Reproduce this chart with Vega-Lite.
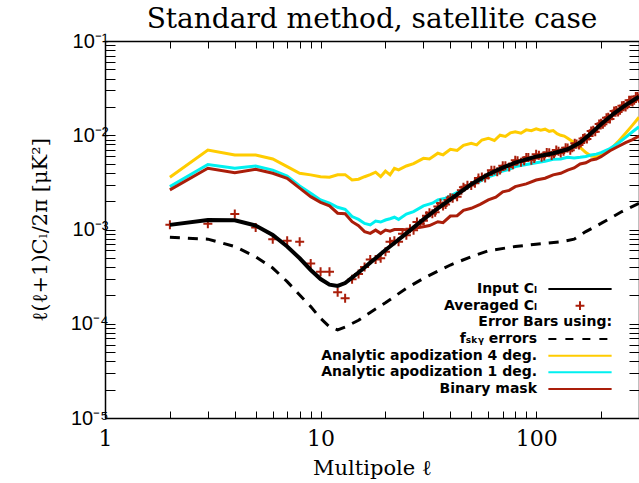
{
  "$schema": "https://vega.github.io/schema/vega-lite/v6.json",
  "width": 534,
  "height": 377,
  "autosize": {"type": "none"},
  "padding": {"left": 105, "top": 41, "right": 0, "bottom": 65},
  "background": "white",
  "title": {"text": "Standard method, satellite case", "font": "DejaVu Serif", "fontSize": 28, "fontWeight": "normal", "color": "black", "anchor": "middle", "offset": 8, "dy": 11},
  "config": {"view": {"stroke": null}},
  "data": {"values": [
    {"s": "Input Cₗ", "l": 2, "v": 0.00112}, {"s": "Input Cₗ", "l": 3, "v": 0.00126}, {"s": "Input Cₗ", "l": 4, "v": 0.00125}, {"s": "Input Cₗ", "l": 5, "v": 0.0011}, {"s": "Input Cₗ", "l": 6, "v": 0.000875}, {"s": "Input Cₗ", "l": 7, "v": 0.00066}, {"s": "Input Cₗ", "l": 8, "v": 0.000495}, {"s": "Input Cₗ", "l": 9, "v": 0.000372}, {"s": "Input Cₗ", "l": 10, "v": 0.000298}, {"s": "Input Cₗ", "l": 11, "v": 0.00026}, {"s": "Input Cₗ", "l": 12, "v": 0.000252}, {"s": "Input Cₗ", "l": 13, "v": 0.00027}, {"s": "Input Cₗ", "l": 14, "v": 0.000308}, {"s": "Input Cₗ", "l": 15, "v": 0.00035}, {"s": "Input Cₗ", "l": 16, "v": 0.000395}, {"s": "Input Cₗ", "l": 17, "v": 0.000445}, {"s": "Input Cₗ", "l": 18, "v": 0.000495}, {"s": "Input Cₗ", "l": 20, "v": 0.000605}, {"s": "Input Cₗ", "l": 22, "v": 0.00072}, {"s": "Input Cₗ", "l": 25, "v": 0.00091}, {"s": "Input Cₗ", "l": 30, "v": 0.00128}, {"s": "Input Cₗ", "l": 35, "v": 0.00168}, {"s": "Input Cₗ", "l": 40, "v": 0.00209}, {"s": "Input Cₗ", "l": 50, "v": 0.00302}, {"s": "Input Cₗ", "l": 60, "v": 0.00386}, {"s": "Input Cₗ", "l": 70, "v": 0.00453}, {"s": "Input Cₗ", "l": 80, "v": 0.00512}, {"s": "Input Cₗ", "l": 90, "v": 0.00555}, {"s": "Input Cₗ", "l": 100, "v": 0.00593}, {"s": "Input Cₗ", "l": 120, "v": 0.00645}, {"s": "Input Cₗ", "l": 140, "v": 0.0071}, {"s": "Input Cₗ", "l": 160, "v": 0.00835}, {"s": "Input Cₗ", "l": 180, "v": 0.0105}, {"s": "Input Cₗ", "l": 200, "v": 0.0131}, {"s": "Input Cₗ", "l": 230, "v": 0.0171}, {"s": "Input Cₗ", "l": 260, "v": 0.0209}, {"s": "Input Cₗ", "l": 300, "v": 0.0257},

    {"s": "Averaged Cₗ", "l": 2, "v": 0.00112}, {"s": "Averaged Cₗ", "l": 3, "v": 0.00115}, {"s": "Averaged Cₗ", "l": 4, "v": 0.00146}, {"s": "Averaged Cₗ", "l": 5, "v": 0.00105}, {"s": "Averaged Cₗ", "l": 6, "v": 0.00079}, {"s": "Averaged Cₗ", "l": 7, "v": 0.00076}, {"s": "Averaged Cₗ", "l": 8, "v": 0.00074}, {"s": "Averaged Cₗ", "l": 9, "v": 0.000437}, {"s": "Averaged Cₗ", "l": 10, "v": 0.000357}, {"s": "Averaged Cₗ", "l": 11, "v": 0.000357}, {"s": "Averaged Cₗ", "l": 12, "v": 0.000216}, {"s": "Averaged Cₗ", "l": 13, "v": 0.000187}, {"s": "Averaged Cₗ", "l": 14, "v": 0.000296}, {"s": "Averaged Cₗ", "l": 15, "v": 0.000337}, {"s": "Averaged Cₗ", "l": 16, "v": 0.0004}, {"s": "Averaged Cₗ", "l": 17, "v": 0.00048}, {"s": "Averaged Cₗ", "l": 18, "v": 0.00048}, {"s": "Averaged Cₗ", "l": 19, "v": 0.000495}, {"s": "Averaged Cₗ", "l": 20, "v": 0.00058}, {"s": "Averaged Cₗ", "l": 21, "v": 0.00074}, {"s": "Averaged Cₗ", "l": 22, "v": 0.00076}, {"s": "Averaged Cₗ", "l": 23, "v": 0.00074}, {"s": "Averaged Cₗ", "l": 24, "v": 0.0009}, {"s": "Averaged Cₗ", "l": 25, "v": 0.00087}, {"s": "Averaged Cₗ", "l": 26, "v": 0.00102}, {"s": "Averaged Cₗ", "l": 27, "v": 0.00098}, {"s": "Averaged Cₗ", "l": 28, "v": 0.0012}, {"s": "Averaged Cₗ", "l": 29, "v": 0.00115}, {"s": "Averaged Cₗ", "l": 30, "v": 0.00124}, {"s": "Averaged Cₗ", "l": 31, "v": 0.0014}, {"s": "Averaged Cₗ", "l": 32, "v": 0.00151}, {"s": "Averaged Cₗ", "l": 33, "v": 0.00147}, {"s": "Averaged Cₗ", "l": 34, "v": 0.00152}, {"s": "Averaged Cₗ", "l": 35, "v": 0.00175}, {"s": "Averaged Cₗ", "l": 36, "v": 0.0019}, {"s": "Averaged Cₗ", "l": 37, "v": 0.00178}, {"s": "Averaged Cₗ", "l": 38, "v": 0.00184}, {"s": "Averaged Cₗ", "l": 39, "v": 0.00206}, {"s": "Averaged Cₗ", "l": 40, "v": 0.00217}, {"s": "Averaged Cₗ", "l": 41, "v": 0.00214}, {"s": "Averaged Cₗ", "l": 43, "v": 0.00222}, {"s": "Averaged Cₗ", "l": 45, "v": 0.00261}, {"s": "Averaged Cₗ", "l": 46, "v": 0.00281}, {"s": "Averaged Cₗ", "l": 48, "v": 0.00295}, {"s": "Averaged Cₗ", "l": 50, "v": 0.00293}, {"s": "Averaged Cₗ", "l": 52, "v": 0.00309}, {"s": "Averaged Cₗ", "l": 54, "v": 0.00352}, {"s": "Averaged Cₗ", "l": 56, "v": 0.0036}, {"s": "Averaged Cₗ", "l": 58, "v": 0.00352}, {"s": "Averaged Cₗ", "l": 60, "v": 0.00378}, {"s": "Averaged Cₗ", "l": 62, "v": 0.00424}, {"s": "Averaged Cₗ", "l": 64, "v": 0.00426}, {"s": "Averaged Cₗ", "l": 66, "v": 0.0041}, {"s": "Averaged Cₗ", "l": 68, "v": 0.00427}, {"s": "Averaged Cₗ", "l": 70, "v": 0.00476}, {"s": "Averaged Cₗ", "l": 72, "v": 0.00474}, {"s": "Averaged Cₗ", "l": 75, "v": 0.00459}, {"s": "Averaged Cₗ", "l": 78, "v": 0.00485}, {"s": "Averaged Cₗ", "l": 80, "v": 0.00543}, {"s": "Averaged Cₗ", "l": 82, "v": 0.00536}, {"s": "Averaged Cₗ", "l": 85, "v": 0.00516}, {"s": "Averaged Cₗ", "l": 88, "v": 0.00535}, {"s": "Averaged Cₗ", "l": 90, "v": 0.0058}, {"s": "Averaged Cₗ", "l": 92, "v": 0.0058}, {"s": "Averaged Cₗ", "l": 95, "v": 0.00544}, {"s": "Averaged Cₗ", "l": 98, "v": 0.00568}, {"s": "Averaged Cₗ", "l": 100, "v": 0.00629}, {"s": "Averaged Cₗ", "l": 103, "v": 0.00612}, {"s": "Averaged Cₗ", "l": 106, "v": 0.00584}, {"s": "Averaged Cₗ", "l": 109, "v": 0.00604}, {"s": "Averaged Cₗ", "l": 112, "v": 0.00655}, {"s": "Averaged Cₗ", "l": 115, "v": 0.00651}, {"s": "Averaged Cₗ", "l": 118, "v": 0.00608}, {"s": "Averaged Cₗ", "l": 121, "v": 0.00635}, {"s": "Averaged Cₗ", "l": 124, "v": 0.00696}, {"s": "Averaged Cₗ", "l": 127, "v": 0.00678}, {"s": "Averaged Cₗ", "l": 130, "v": 0.00648}, {"s": "Averaged Cₗ", "l": 134, "v": 0.00676}, {"s": "Averaged Cₗ", "l": 137, "v": 0.00735}, {"s": "Averaged Cₗ", "l": 140, "v": 0.00731}, {"s": "Averaged Cₗ", "l": 144, "v": 0.00694}, {"s": "Averaged Cₗ", "l": 147, "v": 0.00735}, {"s": "Averaged Cₗ", "l": 151, "v": 0.0082}, {"s": "Averaged Cₗ", "l": 154, "v": 0.0081}, {"s": "Averaged Cₗ", "l": 158, "v": 0.00787}, {"s": "Averaged Cₗ", "l": 161, "v": 0.00828}, {"s": "Averaged Cₗ", "l": 165, "v": 0.00924}, {"s": "Averaged Cₗ", "l": 168, "v": 0.00938}, {"s": "Averaged Cₗ", "l": 172, "v": 0.00912}, {"s": "Averaged Cₗ", "l": 176, "v": 0.0098}, {"s": "Averaged Cₗ", "l": 180, "v": 0.0111}, {"s": "Averaged Cₗ", "l": 184, "v": 0.0113}, {"s": "Averaged Cₗ", "l": 188, "v": 0.0109}, {"s": "Averaged Cₗ", "l": 192, "v": 0.0118}, {"s": "Averaged Cₗ", "l": 196, "v": 0.0132}, {"s": "Averaged Cₗ", "l": 200, "v": 0.0134}, {"s": "Averaged Cₗ", "l": 204, "v": 0.0131}, {"s": "Averaged Cₗ", "l": 208, "v": 0.0137}, {"s": "Averaged Cₗ", "l": 212, "v": 0.0153}, {"s": "Averaged Cₗ", "l": 216, "v": 0.0155}, {"s": "Averaged Cₗ", "l": 220, "v": 0.0149}, {"s": "Averaged Cₗ", "l": 225, "v": 0.0161}, {"s": "Averaged Cₗ", "l": 230, "v": 0.0181}, {"s": "Averaged Cₗ", "l": 235, "v": 0.0183}, {"s": "Averaged Cₗ", "l": 240, "v": 0.0177}, {"s": "Averaged Cₗ", "l": 245, "v": 0.0184}, {"s": "Averaged Cₗ", "l": 250, "v": 0.0205}, {"s": "Averaged Cₗ", "l": 255, "v": 0.0207}, {"s": "Averaged Cₗ", "l": 260, "v": 0.0199}, {"s": "Averaged Cₗ", "l": 265, "v": 0.0211}, {"s": "Averaged Cₗ", "l": 270, "v": 0.0235}, {"s": "Averaged Cₗ", "l": 275, "v": 0.0235}, {"s": "Averaged Cₗ", "l": 280, "v": 0.0226}, {"s": "Averaged Cₗ", "l": 285, "v": 0.0235}, {"s": "Averaged Cₗ", "l": 290, "v": 0.0258}, {"s": "Averaged Cₗ", "l": 295, "v": 0.0257}, {"s": "Averaged Cₗ", "l": 300, "v": 0.0247},

    {"s": "fₛₖᵧ errors", "l": 2, "v": 0.000826}, {"s": "fₛₖᵧ errors", "l": 3, "v": 0.00079}, {"s": "fₛₖᵧ errors", "l": 4, "v": 0.00066}, {"s": "fₛₖᵧ errors", "l": 5, "v": 0.000515}, {"s": "fₛₖᵧ errors", "l": 6, "v": 0.00039}, {"s": "fₛₖᵧ errors", "l": 7, "v": 0.00028}, {"s": "fₛₖᵧ errors", "l": 8, "v": 0.000202}, {"s": "fₛₖᵧ errors", "l": 9, "v": 0.000152}, {"s": "fₛₖᵧ errors", "l": 10, "v": 0.000114}, {"s": "fₛₖᵧ errors", "l": 11, "v": 0.000093}, {"s": "fₛₖᵧ errors", "l": 12, "v": 0.000086}, {"s": "fₛₖᵧ errors", "l": 13, "v": 0.000092}, {"s": "fₛₖᵧ errors", "l": 15, "v": 0.000109}, {"s": "fₛₖᵧ errors", "l": 17, "v": 0.000132}, {"s": "fₛₖᵧ errors", "l": 20, "v": 0.000167}, {"s": "fₛₖᵧ errors", "l": 25, "v": 0.000238}, {"s": "fₛₖᵧ errors", "l": 30, "v": 0.000303}, {"s": "fₛₖᵧ errors", "l": 40, "v": 0.00042}, {"s": "fₛₖᵧ errors", "l": 50, "v": 0.000515}, {"s": "fₛₖᵧ errors", "l": 60, "v": 0.000595}, {"s": "fₛₖᵧ errors", "l": 80, "v": 0.00066}, {"s": "fₛₖᵧ errors", "l": 100, "v": 0.000697}, {"s": "fₛₖᵧ errors", "l": 130, "v": 0.00074}, {"s": "fₛₖᵧ errors", "l": 150, "v": 0.00079}, {"s": "fₛₖᵧ errors", "l": 170, "v": 0.00095}, {"s": "fₛₖᵧ errors", "l": 200, "v": 0.00116}, {"s": "fₛₖᵧ errors", "l": 250, "v": 0.00155}, {"s": "fₛₖᵧ errors", "l": 300, "v": 0.0019},

    {"s": "Analytic apodization 4 deg.", "l": 2, "v": 0.00358}, {"s": "Analytic apodization 4 deg.", "l": 3, "v": 0.00697}, {"s": "Analytic apodization 4 deg.", "l": 4, "v": 0.00616}, {"s": "Analytic apodization 4 deg.", "l": 5, "v": 0.00616}, {"s": "Analytic apodization 4 deg.", "l": 6, "v": 0.0056}, {"s": "Analytic apodization 4 deg.", "l": 7, "v": 0.00465}, {"s": "Analytic apodization 4 deg.", "l": 8, "v": 0.00395}, {"s": "Analytic apodization 4 deg.", "l": 9, "v": 0.0038}, {"s": "Analytic apodization 4 deg.", "l": 10, "v": 0.00363}, {"s": "Analytic apodization 4 deg.", "l": 11, "v": 0.00358}, {"s": "Analytic apodization 4 deg.", "l": 12, "v": 0.0038}, {"s": "Analytic apodization 4 deg.", "l": 13, "v": 0.00382}, {"s": "Analytic apodization 4 deg.", "l": 14, "v": 0.00335}, {"s": "Analytic apodization 4 deg.", "l": 15, "v": 0.00342}, {"s": "Analytic apodization 4 deg.", "l": 16, "v": 0.00363}, {"s": "Analytic apodization 4 deg.", "l": 17, "v": 0.00382}, {"s": "Analytic apodization 4 deg.", "l": 18, "v": 0.00405}, {"s": "Analytic apodization 4 deg.", "l": 19, "v": 0.00363}, {"s": "Analytic apodization 4 deg.", "l": 20, "v": 0.00416}, {"s": "Analytic apodization 4 deg.", "l": 21, "v": 0.0038}, {"s": "Analytic apodization 4 deg.", "l": 22, "v": 0.00446}, {"s": "Analytic apodization 4 deg.", "l": 23, "v": 0.0043}, {"s": "Analytic apodization 4 deg.", "l": 25, "v": 0.00472}, {"s": "Analytic apodization 4 deg.", "l": 27, "v": 0.005}, {"s": "Analytic apodization 4 deg.", "l": 30, "v": 0.00569}, {"s": "Analytic apodization 4 deg.", "l": 32, "v": 0.0056}, {"s": "Analytic apodization 4 deg.", "l": 35, "v": 0.00645}, {"s": "Analytic apodization 4 deg.", "l": 37, "v": 0.0062}, {"s": "Analytic apodization 4 deg.", "l": 40, "v": 0.0071}, {"s": "Analytic apodization 4 deg.", "l": 43, "v": 0.0069}, {"s": "Analytic apodization 4 deg.", "l": 46, "v": 0.0078}, {"s": "Analytic apodization 4 deg.", "l": 50, "v": 0.00822}, {"s": "Analytic apodization 4 deg.", "l": 53, "v": 0.0079}, {"s": "Analytic apodization 4 deg.", "l": 56, "v": 0.0089}, {"s": "Analytic apodization 4 deg.", "l": 60, "v": 0.0093}, {"s": "Analytic apodization 4 deg.", "l": 64, "v": 0.0088}, {"s": "Analytic apodization 4 deg.", "l": 68, "v": 0.01}, {"s": "Analytic apodization 4 deg.", "l": 72, "v": 0.0097}, {"s": "Analytic apodization 4 deg.", "l": 76, "v": 0.0106}, {"s": "Analytic apodization 4 deg.", "l": 80, "v": 0.0109}, {"s": "Analytic apodization 4 deg.", "l": 85, "v": 0.0105}, {"s": "Analytic apodization 4 deg.", "l": 90, "v": 0.0114}, {"s": "Analytic apodization 4 deg.", "l": 95, "v": 0.0112}, {"s": "Analytic apodization 4 deg.", "l": 100, "v": 0.0117}, {"s": "Analytic apodization 4 deg.", "l": 105, "v": 0.0113}, {"s": "Analytic apodization 4 deg.", "l": 110, "v": 0.0116}, {"s": "Analytic apodization 4 deg.", "l": 115, "v": 0.011}, {"s": "Analytic apodization 4 deg.", "l": 120, "v": 0.0112}, {"s": "Analytic apodization 4 deg.", "l": 125, "v": 0.0104}, {"s": "Analytic apodization 4 deg.", "l": 130, "v": 0.01}, {"s": "Analytic apodization 4 deg.", "l": 135, "v": 0.0098}, {"s": "Analytic apodization 4 deg.", "l": 140, "v": 0.0093}, {"s": "Analytic apodization 4 deg.", "l": 150, "v": 0.00836}, {"s": "Analytic apodization 4 deg.", "l": 160, "v": 0.00745}, {"s": "Analytic apodization 4 deg.", "l": 170, "v": 0.00654}, {"s": "Analytic apodization 4 deg.", "l": 180, "v": 0.00603}, {"s": "Analytic apodization 4 deg.", "l": 190, "v": 0.00593}, {"s": "Analytic apodization 4 deg.", "l": 200, "v": 0.00616}, {"s": "Analytic apodization 4 deg.", "l": 220, "v": 0.00697}, {"s": "Analytic apodization 4 deg.", "l": 240, "v": 0.00855}, {"s": "Analytic apodization 4 deg.", "l": 260, "v": 0.0105}, {"s": "Analytic apodization 4 deg.", "l": 280, "v": 0.0128}, {"s": "Analytic apodization 4 deg.", "l": 300, "v": 0.0155},

    {"s": "Analytic apodization 1 deg.", "l": 2, "v": 0.00285}, {"s": "Analytic apodization 1 deg.", "l": 3, "v": 0.0049}, {"s": "Analytic apodization 1 deg.", "l": 4, "v": 0.00446}, {"s": "Analytic apodization 1 deg.", "l": 5, "v": 0.00472}, {"s": "Analytic apodization 1 deg.", "l": 6, "v": 0.00427}, {"s": "Analytic apodization 1 deg.", "l": 7, "v": 0.0037}, {"s": "Analytic apodization 1 deg.", "l": 8, "v": 0.0029}, {"s": "Analytic apodization 1 deg.", "l": 9, "v": 0.00242}, {"s": "Analytic apodization 1 deg.", "l": 10, "v": 0.00206}, {"s": "Analytic apodization 1 deg.", "l": 11, "v": 0.0019}, {"s": "Analytic apodization 1 deg.", "l": 12, "v": 0.00172}, {"s": "Analytic apodization 1 deg.", "l": 13, "v": 0.00164}, {"s": "Analytic apodization 1 deg.", "l": 14, "v": 0.00137}, {"s": "Analytic apodization 1 deg.", "l": 15, "v": 0.00128}, {"s": "Analytic apodization 1 deg.", "l": 16, "v": 0.00116}, {"s": "Analytic apodization 1 deg.", "l": 17, "v": 0.00112}, {"s": "Analytic apodization 1 deg.", "l": 18, "v": 0.00123}, {"s": "Analytic apodization 1 deg.", "l": 19, "v": 0.0012}, {"s": "Analytic apodization 1 deg.", "l": 20, "v": 0.00126}, {"s": "Analytic apodization 1 deg.", "l": 21, "v": 0.0013}, {"s": "Analytic apodization 1 deg.", "l": 22, "v": 0.00135}, {"s": "Analytic apodization 1 deg.", "l": 23, "v": 0.00128}, {"s": "Analytic apodization 1 deg.", "l": 25, "v": 0.00146}, {"s": "Analytic apodization 1 deg.", "l": 27, "v": 0.00155}, {"s": "Analytic apodization 1 deg.", "l": 30, "v": 0.00178}, {"s": "Analytic apodization 1 deg.", "l": 33, "v": 0.0019}, {"s": "Analytic apodization 1 deg.", "l": 35, "v": 0.00206}, {"s": "Analytic apodization 1 deg.", "l": 38, "v": 0.00215}, {"s": "Analytic apodization 1 deg.", "l": 40, "v": 0.00227}, {"s": "Analytic apodization 1 deg.", "l": 45, "v": 0.0026}, {"s": "Analytic apodization 1 deg.", "l": 50, "v": 0.00296}, {"s": "Analytic apodization 1 deg.", "l": 55, "v": 0.00325}, {"s": "Analytic apodization 1 deg.", "l": 60, "v": 0.00363}, {"s": "Analytic apodization 1 deg.", "l": 65, "v": 0.00385}, {"s": "Analytic apodization 1 deg.", "l": 70, "v": 0.00418}, {"s": "Analytic apodization 1 deg.", "l": 75, "v": 0.00435}, {"s": "Analytic apodization 1 deg.", "l": 80, "v": 0.00465}, {"s": "Analytic apodization 1 deg.", "l": 90, "v": 0.0049}, {"s": "Analytic apodization 1 deg.", "l": 100, "v": 0.00512}, {"s": "Analytic apodization 1 deg.", "l": 110, "v": 0.0053}, {"s": "Analytic apodization 1 deg.", "l": 120, "v": 0.00556}, {"s": "Analytic apodization 1 deg.", "l": 130, "v": 0.0056}, {"s": "Analytic apodization 1 deg.", "l": 140, "v": 0.00583}, {"s": "Analytic apodization 1 deg.", "l": 150, "v": 0.00575}, {"s": "Analytic apodization 1 deg.", "l": 160, "v": 0.00583}, {"s": "Analytic apodization 1 deg.", "l": 170, "v": 0.00595}, {"s": "Analytic apodization 1 deg.", "l": 180, "v": 0.00616}, {"s": "Analytic apodization 1 deg.", "l": 190, "v": 0.0063}, {"s": "Analytic apodization 1 deg.", "l": 200, "v": 0.00654}, {"s": "Analytic apodization 1 deg.", "l": 220, "v": 0.00723}, {"s": "Analytic apodization 1 deg.", "l": 240, "v": 0.00822}, {"s": "Analytic apodization 1 deg.", "l": 260, "v": 0.0095}, {"s": "Analytic apodization 1 deg.", "l": 280, "v": 0.0109}, {"s": "Analytic apodization 1 deg.", "l": 300, "v": 0.0123},

    {"s": "Binary mask", "l": 2, "v": 0.00263}, {"s": "Binary mask", "l": 3, "v": 0.00446}, {"s": "Binary mask", "l": 4, "v": 0.00401}, {"s": "Binary mask", "l": 5, "v": 0.00436}, {"s": "Binary mask", "l": 6, "v": 0.00395}, {"s": "Binary mask", "l": 7, "v": 0.00349}, {"s": "Binary mask", "l": 8, "v": 0.00275}, {"s": "Binary mask", "l": 9, "v": 0.00223}, {"s": "Binary mask", "l": 10, "v": 0.00194}, {"s": "Binary mask", "l": 11, "v": 0.00178}, {"s": "Binary mask", "l": 12, "v": 0.00149}, {"s": "Binary mask", "l": 13, "v": 0.00147}, {"s": "Binary mask", "l": 14, "v": 0.00121}, {"s": "Binary mask", "l": 15, "v": 0.0011}, {"s": "Binary mask", "l": 16, "v": 0.00095}, {"s": "Binary mask", "l": 17, "v": 0.00091}, {"s": "Binary mask", "l": 18, "v": 0.000985}, {"s": "Binary mask", "l": 19, "v": 0.00091}, {"s": "Binary mask", "l": 20, "v": 0.000985}, {"s": "Binary mask", "l": 21, "v": 0.00096}, {"s": "Binary mask", "l": 22, "v": 0.001}, {"s": "Binary mask", "l": 24, "v": 0.001}, {"s": "Binary mask", "l": 26, "v": 0.00098}, {"s": "Binary mask", "l": 28, "v": 0.00104}, {"s": "Binary mask", "l": 30, "v": 0.00107}, {"s": "Binary mask", "l": 32, "v": 0.0011}, {"s": "Binary mask", "l": 35, "v": 0.00121}, {"s": "Binary mask", "l": 37, "v": 0.00118}, {"s": "Binary mask", "l": 40, "v": 0.00139}, {"s": "Binary mask", "l": 43, "v": 0.0014}, {"s": "Binary mask", "l": 46, "v": 0.0016}, {"s": "Binary mask", "l": 50, "v": 0.00168}, {"s": "Binary mask", "l": 55, "v": 0.00185}, {"s": "Binary mask", "l": 60, "v": 0.00206}, {"s": "Binary mask", "l": 65, "v": 0.0022}, {"s": "Binary mask", "l": 70, "v": 0.00251}, {"s": "Binary mask", "l": 75, "v": 0.0026}, {"s": "Binary mask", "l": 80, "v": 0.00285}, {"s": "Binary mask", "l": 90, "v": 0.00305}, {"s": "Binary mask", "l": 100, "v": 0.00335}, {"s": "Binary mask", "l": 110, "v": 0.0035}, {"s": "Binary mask", "l": 120, "v": 0.0038}, {"s": "Binary mask", "l": 130, "v": 0.00395}, {"s": "Binary mask", "l": 140, "v": 0.00427}, {"s": "Binary mask", "l": 150, "v": 0.0045}, {"s": "Binary mask", "l": 160, "v": 0.00495}, {"s": "Binary mask", "l": 170, "v": 0.0051}, {"s": "Binary mask", "l": 180, "v": 0.00547}, {"s": "Binary mask", "l": 190, "v": 0.0056}, {"s": "Binary mask", "l": 200, "v": 0.00593}, {"s": "Binary mask", "l": 220, "v": 0.00685}, {"s": "Binary mask", "l": 240, "v": 0.0076}, {"s": "Binary mask", "l": 260, "v": 0.00836}, {"s": "Binary mask", "l": 280, "v": 0.009}, {"s": "Binary mask", "l": 300, "v": 0.0098}
  ]},
  "resolve": {"axis": {"x": "independent", "y": "independent"}},
  "layer": [
    {
      "transform": [{"filter": {"field": "s", "oneOf": ["Analytic apodization 4 deg.", "Analytic apodization 1 deg.", "Binary mask"]}}],
      "mark": {"type": "line", "strokeWidth": 3, "clip": true},
      "encoding": {
        "x": {"field": "l", "type": "quantitative", "scale": {"type": "log", "domain": [1, 300], "nice": false},
          "axis": {"orient": "bottom", "values": [1,2,3,4,5,6,7,8,9,10,20,30,40,50,60,70,80,90,100,200,300],
            "labelExpr": "datum.value == 1 ? '1' : datum.value == 10 ? '10' : datum.value == 100 ? '100' : ''",
            "grid": false, "tickSize": -7, "tickColor": "black", "tickWidth": 1, "domainColor": "black", "domainWidth": 1.5,
            "labelFont": "DejaVu Serif", "labelFontSize": 22, "labelColor": "black", "labelPadding": 17, "labelFlush": false, "labelOverlap": false,
            "title": "Multipole ℓ", "titleFont": "DejaVu Serif", "titleFontSize": 21, "titleFontWeight": "normal", "titleColor": "black", "titlePadding": 8}},
        "y": {"field": "v", "type": "quantitative", "scale": {"type": "log", "domain": [0.00001, 0.1], "nice": false},
          "axis": {"orient": "left", "values": [1e-5,2e-5,3e-5,4e-5,5e-5,6e-5,7e-5,8e-5,9e-5,1e-4,2e-4,3e-4,4e-4,5e-4,6e-4,7e-4,8e-4,9e-4,1e-3,2e-3,3e-3,4e-3,5e-3,6e-3,7e-3,8e-3,9e-3,1e-2,2e-2,3e-2,4e-2,5e-2,6e-2,7e-2,8e-2,9e-2,1e-1],
            "labelExpr": "datum.value == 0.1 ? '10⁻¹' : datum.value == 0.01 ? '10⁻²' : datum.value == 0.001 ? '10⁻³' : datum.value == 0.0001 ? '10⁻⁴' : datum.value == 0.00001 ? '10⁻⁵' : ''",
            "grid": false, "tickSize": -10, "tickColor": "black", "tickWidth": 1, "domainColor": "black", "domainWidth": 1.5,
            "labelFont": "Liberation Sans", "labelFontSize": 20, "labelColor": "black", "labelPadding": 7, "labelFlush": false, "labelOverlap": false,
            "title": "ℓ(ℓ+1)Cₗ/2π [μK²]", "titleFont": "DejaVu Serif", "titleFontSize": 21, "titleFontWeight": "normal", "titleColor": "black", "titlePadding": 20}},
        "color": {"field": "s", "type": "nominal",
          "scale": {"domain": ["Input Cₗ", "Averaged Cₗ", "Error Bars using:", "fₛₖᵧ errors", "Analytic apodization 4 deg.", "Analytic apodization 1 deg.", "Binary mask"],
                    "range": ["#000000", "#aa1e0a", "rgba(0,0,0,0)", "#000000", "#ffcc00", "#00f0f0", "#aa1e0a"]},
          "legend": {"orient": "none", "legendX": 442, "legendY": 241, "title": null,
            "labelAlign": "right", "labelOffset": -76, "labelFont": "DejaVu Sans", "labelFontWeight": "bold", "labelFontSize": 14, "labelColor": "black", "labelLimit": 400,
            "symbolSize": 4000, "symbolStrokeWidth": 2, "clipHeight": 14, "rowPadding": 2.67, "padding": 0,
            "encode": {
              "symbols": {"update": {
                "shape": {"signal": "datum.value === 'Averaged Cₗ' ? 'M-0.14,0L0.14,0M0,-0.14L0,0.14' : 'stroke'"},
                "strokeDash": {"signal": "datum.value === 'fₛₖᵧ errors' ? [8,9] : [1,0]"},
                "strokeWidth": {"value": 2},
                "fill": {"value": "transparent"},
                "stroke": {"scale": "color", "field": "value"},
                "opacity": {"value": 1}
              }},
              "labels": {"update": {"dx": {"signal": "datum.value === 'Error Bars using:' ? 75 : 0"}}}
            }}}
      }
    },
    {
      "transform": [{"filter": {"field": "s", "equal": "fₛₖᵧ errors"}}],
      "mark": {"type": "line", "strokeWidth": 3, "strokeDash": [10, 8], "clip": true},
      "encoding": {
        "x": {"field": "l", "type": "quantitative", "axis": {"orient": "top", "values": [1,2,3,4,5,6,7,8,9,10,20,30,40,50,60,70,80,90,100,200,300], "labels": false, "title": null, "grid": false, "tickSize": -7, "tickColor": "black", "domainColor": "black", "domainWidth": 1.5}},
        "y": {"field": "v", "type": "quantitative", "axis": {"orient": "right", "values": [1e-5,2e-5,3e-5,4e-5,5e-5,6e-5,7e-5,8e-5,9e-5,1e-4,2e-4,3e-4,4e-4,5e-4,6e-4,7e-4,8e-4,9e-4,1e-3,2e-3,3e-3,4e-3,5e-3,6e-3,7e-3,8e-3,9e-3,1e-2,2e-2,3e-2,4e-2,5e-2,6e-2,7e-2,8e-2,9e-2,1e-1], "labels": false, "title": null, "grid": false, "tickSize": -10, "tickColor": "black", "domainColor": "black", "domainWidth": 1.5}},
        "color": {"field": "s", "type": "nominal"}
      }
    },
    {
      "transform": [{"filter": {"field": "s", "equal": "Averaged Cₗ"}}],
      "mark": {"type": "point", "shape": "M-1,0L1,0M0,-1L0,1", "filled": false, "strokeWidth": 2, "size": 81, "opacity": 1, "clip": true},
      "encoding": {
        "x": {"field": "l", "type": "quantitative", "axis": null},
        "y": {"field": "v", "type": "quantitative", "axis": null},
        "color": {"field": "s", "type": "nominal"}
      }
    },
    {
      "transform": [{"filter": {"field": "s", "equal": "Input Cₗ"}}],
      "mark": {"type": "line", "strokeWidth": 4, "clip": true},
      "encoding": {
        "x": {"field": "l", "type": "quantitative", "axis": null},
        "y": {"field": "v", "type": "quantitative", "axis": null},
        "color": {"field": "s", "type": "nominal"}
      }
    }
  ]
}
